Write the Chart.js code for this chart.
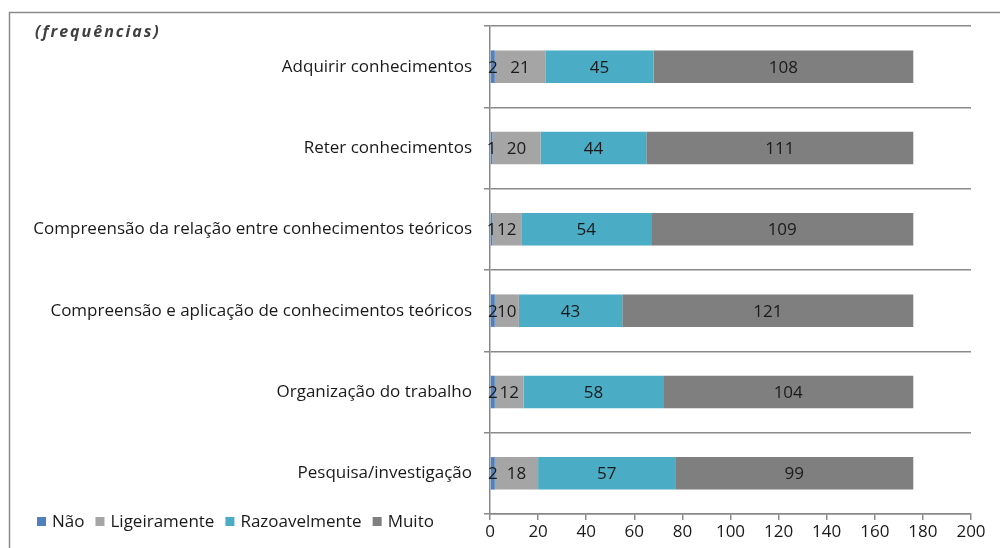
<!DOCTYPE html>
<html>
<head>
<meta charset="utf-8">
<script src="https://cdn.jsdelivr.net/npm/chart.js@4"></script>
<style>
  html, body { margin: 0; padding: 0; background: #fff; }
  canvas { display: block; }
</style>
</head>
<body>
<canvas id="c" width="1000" height="548"></canvas>
<script>
const categories = [
  "Adquirir conhecimentos",
  "Reter conhecimentos",
  "Compreensão da relação entre conhecimentos teóricos",
  "Compreensão e aplicação de conhecimentos teóricos",
  "Organização do trabalho",
  "Pesquisa/investigação"
];
const seriesNames = ["Não", "Ligeiramente", "Razoavelmente", "Muito"];
const naoValues = [2, 1, 1, 2, 2, 2];
const ligeiramenteValues = [21, 20, 12, 10, 12, 18];
const razoavelmenteValues = [45, 44, 54, 43, 58, 57];
const muitoValues = [108, 111, 109, 121, 104, 99];
const xTickValues = [0, 20, 40, 60, 80, 100, 120, 140, 160, 180, 200];
const seriesColors = ["#4F81BD", "#A5A5A5", "#4BACC6", "#7F7F7F"];

const FONT = "'Open Sans', 'Noto Sans', sans-serif";
const TEXT_COLOR = "#1a1a1a";
const LINE_COLOR = "#8a8a8a";

const seriesData = [naoValues, ligeiramenteValues, razoavelmenteValues, muitoValues];

const valueLabels = {
  id: "valueLabels",
  afterDatasetsDraw(chart) {
    const ctx = chart.ctx;
    ctx.save();
    ctx.font = "17px " + FONT;
    ctx.fillStyle = TEXT_COLOR;
    ctx.textAlign = "center";
    ctx.textBaseline = "middle";
    chart.data.datasets.forEach((ds, i) => {
      const meta = chart.getDatasetMeta(i);
      meta.data.forEach((bar, j) => {
        const p = bar.getProps(["x", "base", "y"], true);
        ctx.fillText(String(ds.data[j]), (p.x + p.base) / 2, p.y + 1);
      });
    });
    ctx.restore();
  }
};

const decorations = {
  id: "decorations",
  afterDraw(chart) {
    const ctx = chart.ctx;
    ctx.save();
    // frame
    ctx.strokeStyle = LINE_COLOR;
    ctx.lineWidth = 1.5;
    ctx.beginPath();
    ctx.moveTo(9.5, 548);
    ctx.lineTo(9.5, 12.5);
    ctx.lineTo(1000, 12.5);
    ctx.stroke();
    // subtitle
    ctx.font = "italic bold 16px " + FONT;
    ctx.fillStyle = "#404040";
    ctx.textAlign = "left";
    ctx.textBaseline = "middle";
    if ("letterSpacing" in ctx) ctx.letterSpacing = "2px";
    ctx.fillText("(frequências)", 35, 32);
    if ("letterSpacing" in ctx) ctx.letterSpacing = "0px";
    // legend
    ctx.font = "17px " + FONT;
    ctx.textBaseline = "middle";
    let x = 37;
    const y = 522;
    chart.data.datasets.forEach((ds, i) => {
      ctx.fillStyle = ds.backgroundColor;
      ctx.fillRect(x, y - 5, 9, 9);
      ctx.fillStyle = TEXT_COLOR;
      ctx.fillText(ds.label, x + 15, y);
      x += 15 + ctx.measureText(ds.label).width + 11;
    });
    ctx.restore();
  }
};

new Chart(document.getElementById("c"), {
  type: "bar",
  data: {
    labels: categories,
    datasets: seriesNames.map((name, i) => ({
      label: name,
      data: seriesData[i],
      backgroundColor: seriesColors[i],
      borderWidth: 0,
      barPercentage: 0.4,
      categoryPercentage: 1.0
    }))
  },
  options: {
    indexAxis: "y",
    responsive: false,
    animation: false,
    layout: { padding: { top: 26, right: 29, left: 0, bottom: 0 } },
    plugins: {
      legend: { display: false },
      tooltip: { enabled: false },
      title: { display: false }
    },
    scales: {
      x: {
        stacked: true,
        min: 0,
        max: 200,
        afterBuildTicks(scale) { scale.ticks = xTickValues.map(v => ({ value: v })); },
        afterFit(scale) { scale.height = 34; },
        ticks: { font: { size: 17, family: FONT }, color: TEXT_COLOR, padding: 2, maxRotation: 0 },
        grid: { drawOnChartArea: false, drawTicks: true, tickLength: 6, color: LINE_COLOR, lineWidth: 1.5 },
        border: { display: true, color: LINE_COLOR, width: 1.5 }
      },
      y: {
        stacked: true,
        afterFit(scale) { scale.width = 490; },
        ticks: { font: { size: 17, family: FONT }, color: TEXT_COLOR, padding: 12 },
        grid: { offset: true, drawTicks: true, tickLength: 6, color: LINE_COLOR, lineWidth: 1.5 },
        border: { display: true, color: LINE_COLOR, width: 1.5 }
      }
    }
  },
  plugins: [valueLabels, decorations]
});
</script>
</body>
</html>
